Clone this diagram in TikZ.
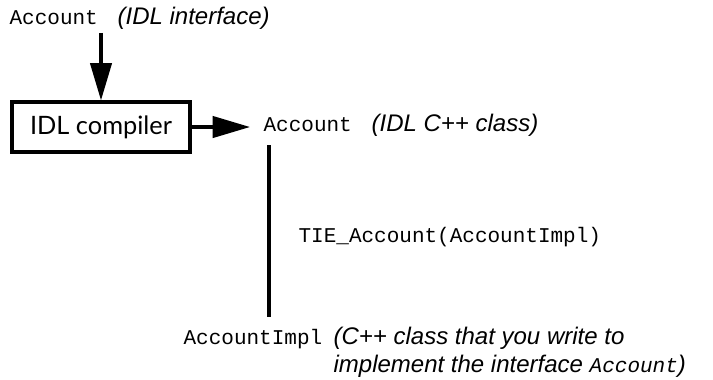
\documentclass[tikz,border=0pt]{standalone}
\usepackage{fontspec}
\setmainfont{Liberation Sans}
\setmonofont{Liberation Mono}
\newfontfamily\boxfont{Lato}
\usetikzlibrary{arrows.meta}
\begin{document}
\begin{tikzpicture}[x=0.75pt,y=-0.75pt,line width=2.4pt,>={Triangle[length=28pt,width=16pt]},
		code/.style={font=\ttfamily\fontsize{15.75}{18}\selectfont,inner sep=0,anchor=base west},
		note/.style={font=\itshape\fontsize{18}{22.5}\selectfont,inner sep=0,anchor=base west},
		tool/.style={draw,font=\boxfont\fontsize{19}{22}\selectfont,minimum width=133.5pt,minimum height=37.5pt,inner sep=0}]
			\useasboundingbox (0,0) rectangle (713,379);
			\node[code] (idl) at (8,24) {Account};
			\node[note] (idlnote) at (116,24) {(IDL interface)};
			\node[tool] (compiler) at (101,127) {IDL compiler};
			\node[code] (cls) at (262,131) {Account};
			\node[note] (clsnote) at (370,131) {(IDL C++ class)};
			\node[code] (tie) at (297,242) {TIE\_Account(AccountImpl)};
			\node[code] (impl) at (182,344) {AccountImpl};
			\node[note] (implnote) at (332,344) {(C++ class that you write to};
			\node[note] (implnote2) at (332,372) {implement the interface {\ttfamily\fontsize{15.75}{18}\selectfont Account})};
			\coordinate (tietop) at (269,145);
			\coordinate (tiebot) at (269,317);
			\draw[->] (idl.south -| compiler) ++(0,7) -- (compiler.north);
			\draw[->,shorten >=9pt] (compiler.east) -- (compiler.east -| cls.west);
			\draw (tietop) -- (tiebot);
		\end{tikzpicture}
\end{document}
